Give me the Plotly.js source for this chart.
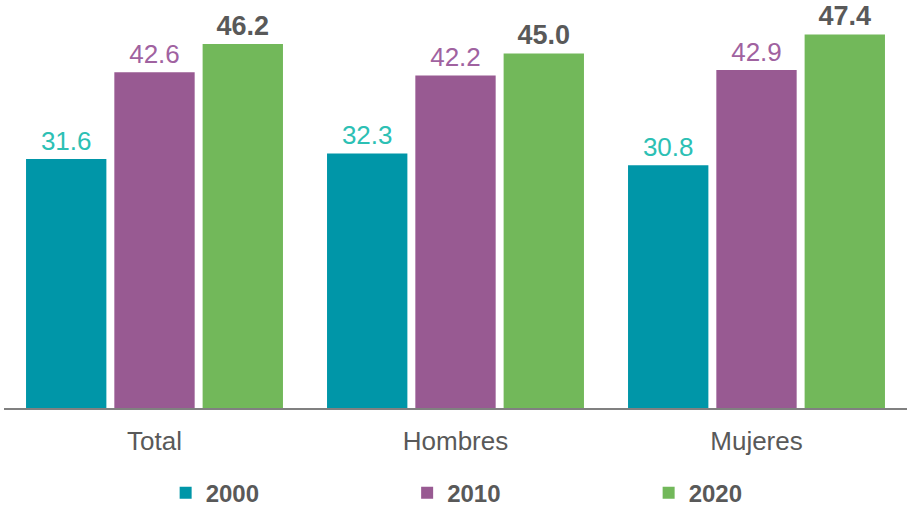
<!DOCTYPE html>
<html><head><meta charset="utf-8">
<script src="https://cdn.plot.ly/plotly-3.0.1.min.js"></script>
<style>body{margin:0;background:#fff}#c{width:909px;height:506px}</style>
</head><body><div id="c"></div>
<script>
var categories = ["Total", "Hombres", "Mujeres"];
var years = ["2000", "2010", "2020"];
var v2000 = [31.6, 32.3, 30.8];
var v2010 = [42.6, 42.2, 42.9];
var v2020 = [46.2, 45.0, 47.4];

var barColors = ["#0096A8", "#985A92", "#72B85A"];
var labelColors = ["#2CC0B4", "#A062A0", "#595959"];
var series = [v2000, v2010, v2020];
var font = "Liberation Sans, Arial, sans-serif";

var traces = series.map(function(vals, i){
  return {
    type: "bar", name: years[i], x: categories, y: vals,
    marker: {color: barColors[i]},
    text: vals.map(function(v){ return i === 2 ? "<b>" + v.toFixed(1) + "</b>" : v.toFixed(1); }),
    textposition: "outside", cliponaxis: false,
    textfont: {family: font, size: i === 2 ? 27 : 26, color: labelColors[i]},
    hoverinfo: "skip"
  };
});

var layout = {
  width: 909, height: 506,
  margin: {l: 4, r: 2, t: 14, b: 98, autoexpand: false},
  paper_bgcolor: "#fff", plot_bgcolor: "#fff",
  barmode: "group", bargap: 0.12, bargroupgap: 0.09,
  showlegend: true,
  legend: {orientation: "h", x: 0.179, xanchor: "left", y: -0.216, yanchor: "middle",
    font: {family: font, size: 24, color: "#595959", weight: "bold"},
    entrywidth: 196.5, traceorder: "normal"},
  xaxis: {showline: true, linecolor: "#808080", linewidth: 2, ticks: "",
    ticklabelstandoff: 9,
    tickfont: {family: font, size: 26, color: "#595959"}, fixedrange: true},
  yaxis: {range: [0, 50], visible: false, showgrid: false, zeroline: false, fixedrange: true}
};
Plotly.newPlot("c", traces, layout, {displayModeBar: false, staticPlot: true});
</script></body></html>
